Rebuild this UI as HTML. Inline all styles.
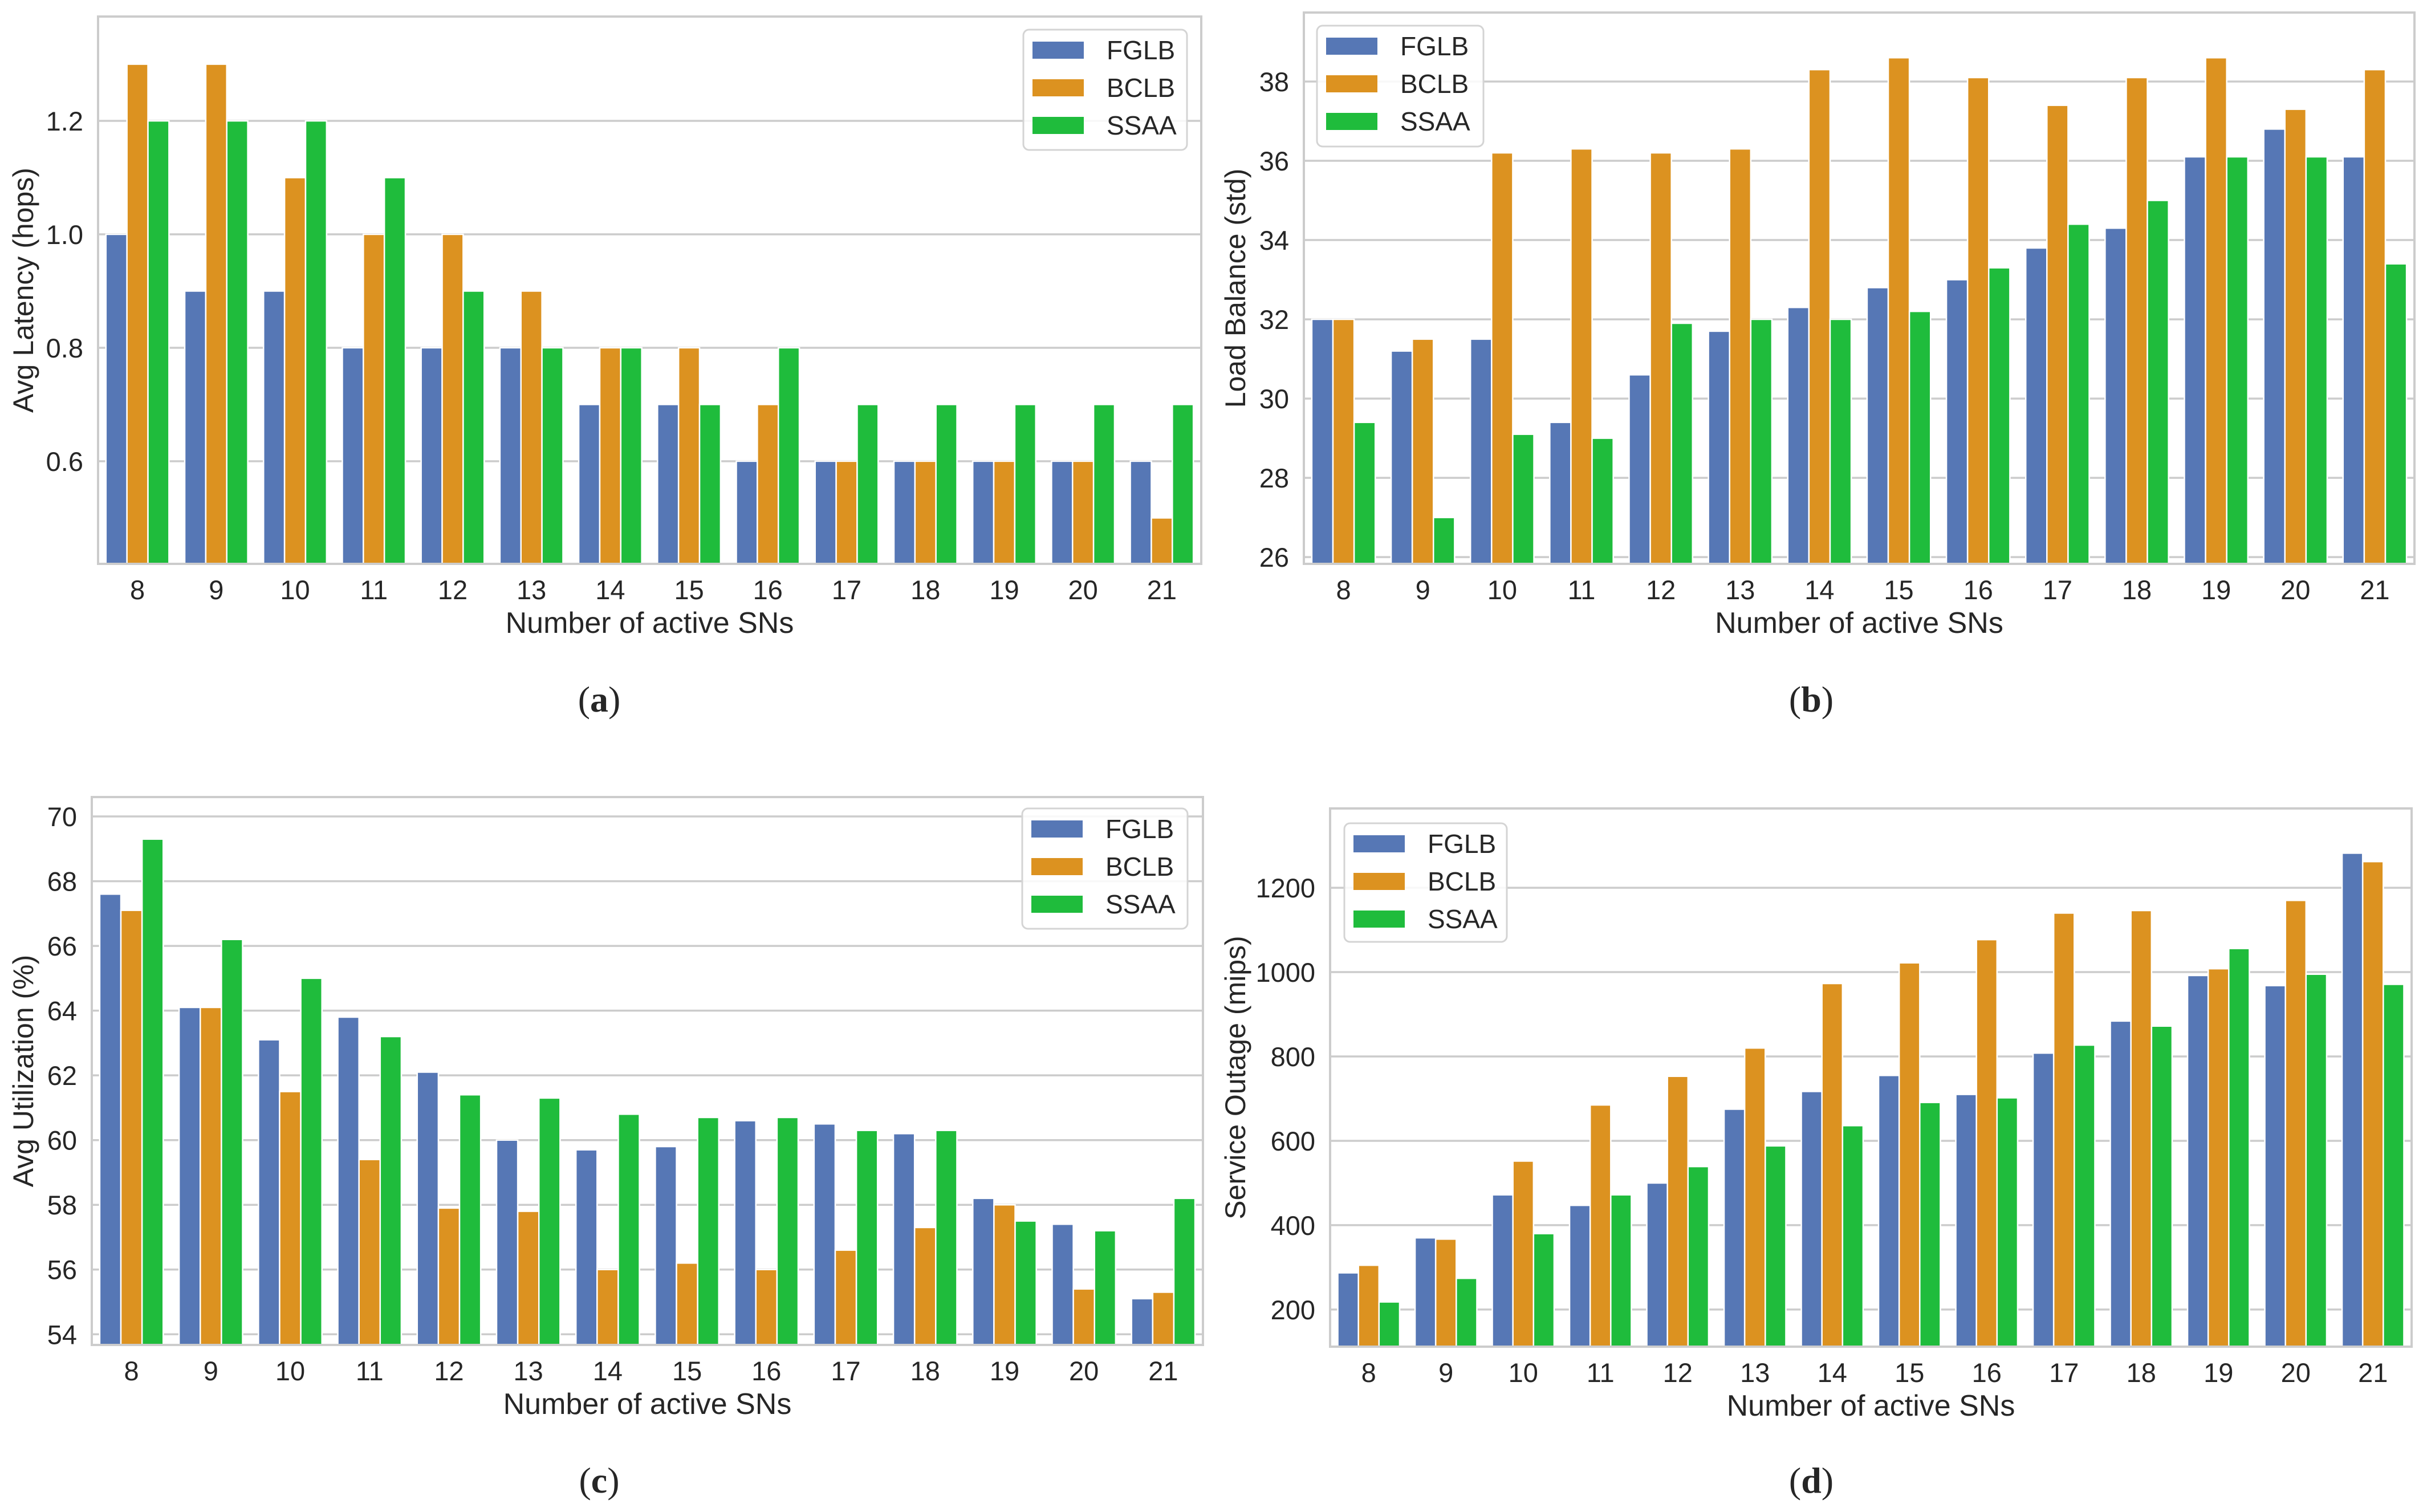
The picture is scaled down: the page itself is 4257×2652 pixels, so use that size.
<!DOCTYPE html>
<html><head><meta charset="utf-8">
<style>
html,body{margin:0;padding:0;background:#fff;}
svg{display:block;}
text{font-family:"Liberation Sans",sans-serif;fill:#262626;}
.cap{font-family:"Liberation Serif",serif;}
</style></head>
<body>
<svg id="fig" width="4257" height="2652" viewBox="0 0 4257 2652" xmlns="http://www.w3.org/2000/svg"></svg>
<script>
const categories = ["8","9","10","11","12","13","14","15","16","17","18","19","20","21"];
const seriesNames = ["FGLB","BCLB","SSAA"];
const colors = ["#5677b5","#dc9220","#1fbc3c"];

const latencyFGLB = [1.0,0.9,0.9,0.8,0.8,0.8,0.7,0.7,0.6,0.6,0.6,0.6,0.6,0.6];
const latencyBCLB = [1.3,1.3,1.1,1.0,1.0,0.9,0.8,0.8,0.7,0.6,0.6,0.6,0.6,0.5];
const latencySSAA = [1.2,1.2,1.2,1.1,0.9,0.8,0.8,0.7,0.8,0.7,0.7,0.7,0.7,0.7];
const latencyTicks = [0.6,0.8,1.0,1.2];
const latencyTickLabels = ["0.6","0.8","1.0","1.2"];

const balanceFGLB = [32.0,31.2,31.5,29.4,30.6,31.7,32.3,32.8,33.0,33.8,34.3,36.1,36.8,36.1];
const balanceBCLB = [32.0,31.5,36.2,36.3,36.2,36.3,38.3,38.6,38.1,37.4,38.1,38.6,37.3,38.3];
const balanceSSAA = [29.4,27.0,29.1,29.0,31.9,32.0,32.0,32.2,33.3,34.4,35.0,36.1,36.1,33.4];
const balanceTicks = [26,28,30,32,34,36,38];
const balanceTickLabels = ["26","28","30","32","34","36","38"];

const utilFGLB = [67.6,64.1,63.1,63.8,62.1,60.0,59.7,59.8,60.6,60.5,60.2,58.2,57.4,55.1];
const utilBCLB = [67.1,64.1,61.5,59.4,57.9,57.8,56.0,56.2,56.0,56.6,57.3,58.0,55.4,55.3];
const utilSSAA = [69.3,66.2,65.0,63.2,61.4,61.3,60.8,60.7,60.7,60.3,60.3,57.5,57.2,58.2];
const utilTicks = [54,56,58,60,62,64,66,68,70];
const utilTickLabels = ["54","56","58","60","62","64","66","68","70"];

const outageFGLB = [287,370,472,447,500,675,717,755,710,808,884,992,968,1282];
const outageBCLB = [305,367,552,685,753,820,973,1022,1077,1140,1146,1008,1170,1262];
const outageSSAA = [218,274,380,472,539,588,636,691,702,827,872,1056,995,971];
const outageTicks = [200,400,600,800,1000,1200];
const outageTickLabels = ["200","400","600","800","1000","1200"];

const NS = "http://www.w3.org/2000/svg";
const svg = document.getElementById("fig");
function mk(tag, attrs, parent){
  const e = document.createElementNS(NS, tag);
  for (const k in attrs) e.setAttribute(k, attrs[k]);
  (parent||svg).appendChild(e);
  return e;
}

function panel(p){
  const g = mk("g", {});
  
  
  const W = p.R - p.L, H = p.B - p.T;
  const yScale = v => p.B - (v - p.ymin) / (p.ymax - p.ymin) * H;
  const band = W / categories.length;
  const xCenter = i => p.L + band * (i + 0.5);
  p.ticks.forEach((t, k) => {
    const y = yScale(t);
    const ln = mk("line", {x1:p.L, x2:p.R, y1:y, y2:y, stroke:"#cccccc", "stroke-width":3.5}, g);
    
    
    const tx = mk("text", {x:p.L-26, y:y+17, "font-size":47, "text-anchor":"end"}, g);
    tx.textContent = p.tickLabels[k];
    
    
  });
  const bw = band * 0.8 / 3;
  p.series.forEach((vals, s) => {
    vals.forEach((v, i) => {
      const x = xCenter(i) - band*0.4 + s*bw;
      const y = yScale(v);
      const r = mk("rect", {x:x, y:y, width:bw, height:p.B - y, fill:colors[s], stroke:"#ffffff", "stroke-width":2.5}, g);
      
      
    });
  });
  const fr = mk("rect", {x:p.L, y:p.T, width:W, height:H, fill:"none", stroke:"#cccccc", "stroke-width":4}, g);
  
  
  categories.forEach((c, i) => {
    const t = mk("text", {x:xCenter(i), y:p.B+62, "font-size":47, "text-anchor":"middle"}, g);
    t.textContent = c;
    
    
  });
  const xt = mk("text", {x:(p.L+p.R)/2, y:p.B+121, "font-size":52, "text-anchor":"middle"}, g);
  xt.textContent = "Number of active SNs";
  
  
  const cy = (p.T+p.B)/2;
  const yt = mk("text", {x:p.ylx, y:cy, "font-size":50, "text-anchor":"middle", transform:"rotate(-90 "+p.ylx+" "+cy+")", dy:17}, g);
  yt.textContent = p.ylabel;
  
  
  const lg = mk("g", {}, g);
  
  
  mk("rect", {x:p.lx, y:p.ly, width:p.lw, height:p.lh, rx:10, fill:"#ffffff", "fill-opacity":0.85, stroke:"#d4d4d4", "stroke-width":3}, lg);
  seriesNames.forEach((n, s) => {
    const cyy = p.ly + 36 + s*66;
    const pr = mk("rect", {x:p.lx+16, y:cyy-15, width:90, height:30, fill:colors[s]}, lg);
    
    
    const lt = mk("text", {x:p.lx+146, y:cyy+16, "font-size":46}, lg);
    lt.textContent = n;
    
    
  });
  const cap = mk("text", {x:p.capx, y:p.capy, "font-size":64, "text-anchor":"middle", "class":"cap"}, g);
  cap.innerHTML = '(<tspan font-weight="bold">' + p.id + '</tspan>)';
  
  
}

panel({id:"a", L:172, R:2107, T:29, B:989, ymin:0.419, ymax:1.384,
  ticks:latencyTicks, tickLabels:latencyTickLabels, series:[latencyFGLB,latencyBCLB,latencySSAA],
  ylabel:"Avg Latency (hops)", ylx:41, lx:1795, ly:52, lw:287, lh:211, capx:1051, capy:1248});
panel({id:"b", L:2287, R:4235, T:22, B:989, ymin:25.83, ymax:39.74,
  ticks:balanceTicks, tickLabels:balanceTickLabels, series:[balanceFGLB,balanceBCLB,balanceSSAA],
  ylabel:"Load Balance (std)", ylx:2167, lx:2310, ly:45, lw:292, lh:212, capx:3177, capy:1248});
panel({id:"c", L:161, R:2110, T:1398, B:2359, ymin:53.67, ymax:70.6,
  ticks:utilTicks, tickLabels:utilTickLabels, series:[utilFGLB,utilBCLB,utilSSAA],
  ylabel:"Avg Utilization (%)", ylx:41, lx:1793, ly:1418, lw:290, lh:211, capx:1051, capy:2618});
panel({id:"d", L:2333, R:4230, T:1418, B:2362, ymin:112, ymax:1388,
  ticks:outageTicks, tickLabels:outageTickLabels, series:[outageFGLB,outageBCLB,outageSSAA],
  ylabel:"Service Outage (mips)", ylx:2167, lx:2358, ly:1444, lw:285, lh:208, capx:3177, capy:2618});
</script>
</body></html>
